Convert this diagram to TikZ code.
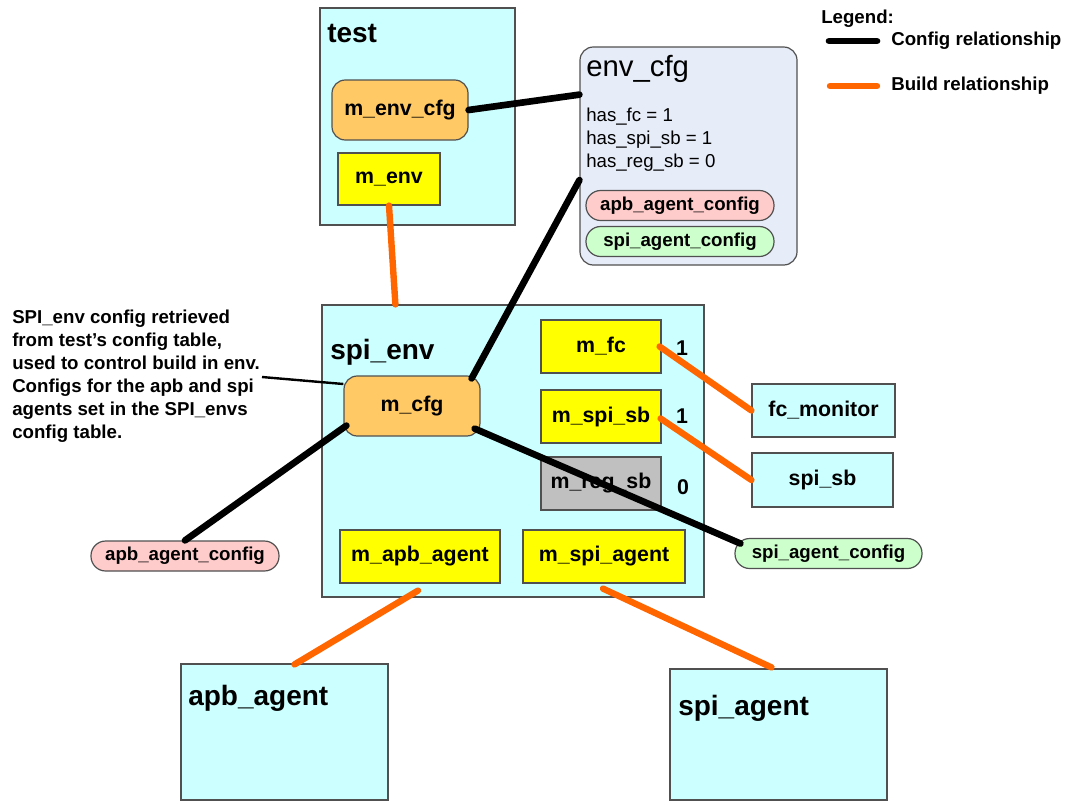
\documentclass[tikz,border=0pt]{standalone}
\usepackage{fontspec}
\setmainfont{Liberation Sans}
\usetikzlibrary{calc}
\definecolor{boxcyan}{HTML}{CCFFFF}
\definecolor{boxyellow}{HTML}{FFFF00}
\definecolor{cfgorange}{HTML}{FFC966}
\definecolor{envblue}{HTML}{E6ECF8}
\definecolor{boxgray}{HTML}{C0C0C0}
\definecolor{pillpink}{HTML}{FFCCCC}
\definecolor{pillgreen}{HTML}{CCFFCC}
\definecolor{buildorange}{HTML}{FF6600}
\definecolor{edgegray}{HTML}{505050}
\tikzset{
  base/.style={draw=edgegray, line width=0.9pt, inner sep=0pt},
  cbox/.style={base, fill=boxcyan},
  ybox/.style={base, fill=boxyellow, font=\bfseries\fontsize{16}{18}\selectfont},
  gbox/.style={base, fill=boxgray, font=\bfseries\fontsize{16}{18}\selectfont},
  obox/.style={base, fill=cfgorange, rounded corners=10pt, font=\bfseries\fontsize{16}{18}\selectfont},
  lbox/.style={cbox, font=\bfseries\fontsize{16}{18}\selectfont},
  pill/.style={base, rounded corners=11pt, minimum height=22.5pt, font=\bfseries\fontsize{14}{16}\selectfont},
  title/.style={anchor=west, inner sep=0pt, font=\bfseries\fontsize{21}{24}\selectfont},
  num/.style={inner sep=0pt, font=\bfseries\fontsize{16}{18}\selectfont},
  cfgline/.style={line width=5pt, black, line cap=round},
  buildline/.style={line width=4.8pt, buildorange, line cap=round},
}
\begin{document}
\begin{tikzpicture}[x=0.75pt, y=-0.75pt]
\useasboundingbox (0,0) rectangle (1066,804);

% test component
\node[cbox, minimum width=146.25pt, minimum height=162.75pt] (test) at (417.5,116.5) {};
\node[title] (testlbl) at (327,33) {test};
\node[obox, minimum width=102pt, minimum height=45pt] (menvcfg) at (400,110) {m\_env\_cfg};
\node[ybox, minimum width=76.5pt, minimum height=39pt] (menv) at (389,179) {m\_env};

% env_cfg object
\node[base, fill=envblue, rounded corners=10pt, minimum width=162.75pt, minimum height=163.5pt] (envcfg) at (688.5,156) {};
\node[anchor=west, inner sep=0pt, font=\fontsize{22}{24}\selectfont] (envcfglbl) at (586,69) {env\_cfg};
\node[anchor=north west, inner sep=0pt, align=left, font=\fontsize{14}{17.25}\selectfont] (envfields) at (586,108)
  {has\_fc = 1\\has\_spi\_sb = 1\\has\_reg\_sb = 0};
\node[pill, fill=pillpink, minimum width=141pt] (envapb) at (680,205.5) {apb\_agent\_config};
\node[pill, fill=pillgreen, minimum width=141pt] (envspi) at (680,241.5) {spi\_agent\_config};

% spi_env component
\node[cbox, minimum width=286.5pt, minimum height=219pt] (spienv) at (513,451) {};
\node[title] (spienvlbl) at (330,352) {spi\_env};
\node[obox, minimum width=102pt, minimum height=45pt] (mcfg) at (412,406) {m\_cfg};
\node[ybox, minimum width=90pt, minimum height=39.75pt] (mfc) at (601,346.5) {m\_fc};
\node[ybox, minimum width=90pt, minimum height=39.75pt] (mspisb) at (601,416.5) {m\_spi\_sb};
\node[gbox, minimum width=90pt, minimum height=39.75pt] (mregsb) at (601,483.5) {m\_reg\_sb};
\node[num] (nfc) at (682,348) {1};
\node[num] (nspisb) at (682,416) {1};
\node[num] (nregsb) at (683,487) {0};
\node[ybox, minimum width=120pt, minimum height=39.75pt] (mapb) at (420,556.5) {m\_apb\_agent};
\node[ybox, minimum width=121.5pt, minimum height=39.75pt] (mspiag) at (604,556.5) {m\_spi\_agent};

% sub-components built by spi_env
\node[lbox, minimum width=107.25pt, minimum height=39.75pt] (fcmon) at (823.5,410.5) {fc\_monitor};
\node[lbox, minimum width=105.75pt, minimum height=40.5pt] (spisb) at (822.5,480) {spi\_sb};
\node[pill, fill=pillpink, minimum width=141pt] (apbcfg) at (185,556) {apb\_agent\_config};
\node[pill, fill=pillgreen, minimum width=140.25pt] (spicfg) at (828.5,553.5) {spi\_agent\_config};

% agents
\node[cbox, minimum width=155.25pt, minimum height=102pt] (apbag) at (284.5,732) {};
\node[title] (apbaglbl) at (188,698) {apb\_agent};
\node[cbox, minimum width=162.75pt, minimum height=98.25pt] (spiag) at (778.5,734.5) {};
\node[title] (spiaglbl) at (678,708) {spi\_agent};

% annotation
\node[anchor=north west, inner sep=0pt, align=left, font=\bfseries\fontsize{14}{17.2}\selectfont] (note) at (12,310)
  {SPI\_env config retrieved\\from test's config table,\\used to control build in env.\\Configs for the apb and spi\\agents set in the SPI\_envs\\config table.};
\coordinate (noteend) at (262,377);
\draw[line width=1.8pt] (noteend) -- ($(mcfg.west)+(0,-22)$);

% config relationships
\draw[cfgline] (menvcfg.east) -- ($(envcfg.north west)!0.22!(envcfg.south west)$);
\draw[cfgline] ($(mcfg.north east)+(-9,3)$) -- ($(envcfg.north west)!0.61!(envcfg.south west)$);
\draw[cfgline] ($(mcfg.south west)+(3,-11)$) -- (apbcfg.north);
\draw[cfgline] ($(mcfg.south east)+(-6,-8)$) -- ($(spicfg.west)+(6,-10)$);

% build relationships
\draw[buildline] (menv.south) -- ($(spienv.north west)+(74,0)$);
\draw[buildline] ($(mfc.east)+(-2,0)$) -- (fcmon.west);
\draw[buildline] ($(mspisb.east)+(-1,2)$) -- (spisb.west);
\draw[buildline] ($(mapb.south)+(-2,7)$) -- ($(apbag.north)+(10,1)$);
\draw[buildline] ($(mspiag.south)+(-1,5)$) -- ($(spiag.north)+(-7,-1)$);

% legend
\node[anchor=west, inner sep=0pt, font=\bfseries\fontsize{14}{16}\selectfont] (legend) at (821,19) {Legend:};
\coordinate (lc1) at (829,41);
\coordinate (lc2) at (877,41);
\coordinate (lb1) at (830,86);
\coordinate (lb2) at (877,86);
\draw[cfgline] (lc1) -- (lc2);
\draw[buildline] (lb1) -- (lb2);
\node[anchor=west, inner sep=0pt, font=\bfseries\fontsize{14}{16}\selectfont] (legcfg) at (891,41) {Config relationship};
\node[anchor=west, inner sep=0pt, font=\bfseries\fontsize{14}{16}\selectfont] (legbuild) at (891,86) {Build relationship};
\end{tikzpicture}
\end{document}
